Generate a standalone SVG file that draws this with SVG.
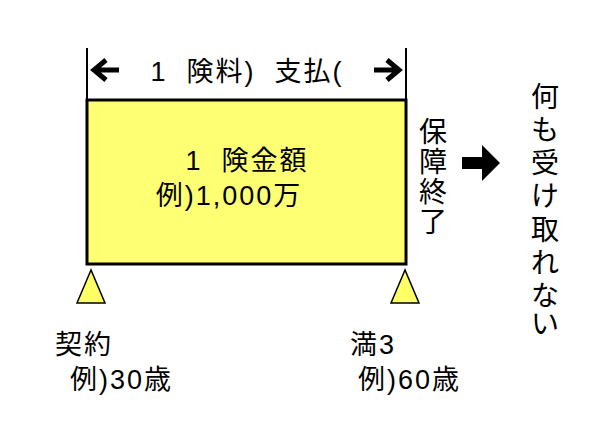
<svg xmlns="http://www.w3.org/2000/svg" width="600" height="427" viewBox="0 0 600 427">
<style>
text{font-family:"Liberation Sans","Noto Sans CJK JP",sans-serif;fill:#000}
.t{font-size:27px;letter-spacing:2px}
.v{font-size:28px;text-anchor:middle}
.tri{fill:#ffff66;stroke:#000;stroke-width:1.5}
</style>
<rect width="600" height="427" fill="#fff"/>
<g id="box">
<rect x="87" y="100" width="319" height="164" fill="#ffff73" stroke="#000" stroke-width="3"/>
<text class="t" x="247" y="170" text-anchor="middle" xml:space="preserve">1  険金額</text>
<text class="t" x="229" y="205" text-anchor="middle">例)1,000万</text>
</g>
<g id="connectors" stroke="#000" fill="none">
<line x1="87" y1="48" x2="87" y2="100" stroke-width="2"/>
<line x1="406" y1="48" x2="406" y2="100" stroke-width="2"/>
<path d="M119 70H95M106 60L94 70L106 80" stroke-width="5"/>
<path d="M374 70H398M387 60L399 70L387 80" stroke-width="5"/>
<path d="M462 157H482V145L500 163L482 181V169H462Z" fill="#000" stroke="none"/>
</g>
<g id="header"><text class="t" x="247" y="81" text-anchor="middle" xml:space="preserve">1  険料)  支払(</text></g>
<g id="start">
<polygon class="tri" points="91,270 77,303 105,303"/>
<text class="t" x="55" y="354">契約</text>
<text class="t" x="70" y="389">例)30歳</text>
</g>
<g id="end">
<polygon class="tri" points="405,270 391,303 419,303"/>
<text class="t" x="350" y="354">満3</text>
<text class="t" x="358" y="389">例)60歳</text>
</g>
<g id="term">
<text class="v" x="433" y="142">保</text>
<text class="v" x="433" y="172">障</text>
<text class="v" x="433" y="202">終</text>
<text class="v" x="433" y="232">了</text>
</g>
<g id="result">
<text class="v" x="545" y="107">何</text>
<text class="v" x="545" y="140">も</text>
<text class="v" x="545" y="173">受</text>
<text class="v" x="545" y="206">け</text>
<text class="v" x="545" y="240">取</text>
<text class="v" x="545" y="273">れ</text>
<text class="v" x="545" y="306">な</text>
<text class="v" x="545" y="334">い</text>
</g>
</svg>
